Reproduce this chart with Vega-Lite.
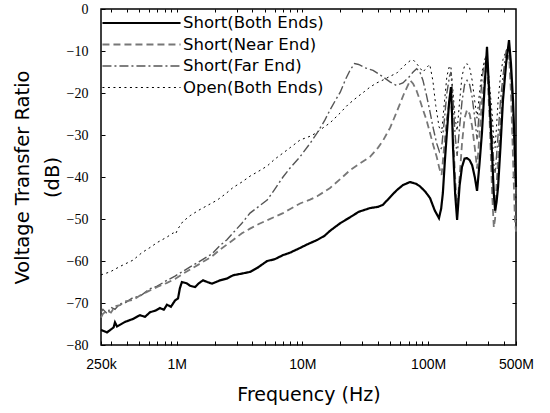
{
 "$schema": "https://vega.github.io/schema/vega-lite/v6.json",
 "width": 415, "height": 336,
 "autosize": "none",
 "padding": {"left": 101, "top": 9, "right": 34, "bottom": 68},
 "background": "white",
 "config": {"view": {"stroke": "black", "strokeWidth": 1.5}, "axis": {"grid": false}},
 "datasets": {
  "both": [
   {"s":"Short(Both Ends)","f":250000,"v":-76.4},{"s":"Short(Both Ends)","f":259000,"v":-76.6},{"s":"Short(Both Ends)","f":279000,"v":-77.0},{"s":"Short(Both Ends)","f":300000,"v":-76.3},{"s":"Short(Both Ends)","f":315000,"v":-75.8},{"s":"Short(Both Ends)","f":323000,"v":-74.6},{"s":"Short(Both Ends)","f":335000,"v":-75.6},{"s":"Short(Both Ends)","f":388000,"v":-74.5},{"s":"Short(Both Ends)","f":449000,"v":-73.8},{"s":"Short(Both Ends)","f":510000,"v":-72.9},{"s":"Short(Both Ends)","f":560000,"v":-73.3},{"s":"Short(Both Ends)","f":613000,"v":-72.2},{"s":"Short(Both Ends)","f":680000,"v":-71.8},{"s":"Short(Both Ends)","f":736000,"v":-71.2},{"s":"Short(Both Ends)","f":790000,"v":-71.6},{"s":"Short(Both Ends)","f":837000,"v":-70.4},{"s":"Short(Both Ends)","f":900000,"v":-70.9},{"s":"Short(Both Ends)","f":970000,"v":-69.4},{"s":"Short(Both Ends)","f":1025000,"v":-68.9},{"s":"Short(Both Ends)","f":1060000,"v":-66.5},{"s":"Short(Both Ends)","f":1100000,"v":-65.0},{"s":"Short(Both Ends)","f":1200000,"v":-65.3},{"s":"Short(Both Ends)","f":1280000,"v":-65.9},{"s":"Short(Both Ends)","f":1400000,"v":-66.2},{"s":"Short(Both Ends)","f":1500000,"v":-65.3},{"s":"Short(Both Ends)","f":1620000,"v":-64.6},{"s":"Short(Both Ends)","f":1750000,"v":-65.0},{"s":"Short(Both Ends)","f":1910000,"v":-65.4},{"s":"Short(Both Ends)","f":2210000,"v":-64.6},{"s":"Short(Both Ends)","f":2500000,"v":-64.2},{"s":"Short(Both Ends)","f":2810000,"v":-63.4},{"s":"Short(Both Ends)","f":3300000,"v":-63.0},{"s":"Short(Both Ends)","f":3830000,"v":-62.6},{"s":"Short(Both Ends)","f":4400000,"v":-61.6},{"s":"Short(Both Ends)","f":5240000,"v":-60.0},{"s":"Short(Both Ends)","f":6000000,"v":-59.6},{"s":"Short(Both Ends)","f":7010000,"v":-58.6},{"s":"Short(Both Ends)","f":8000000,"v":-58.0},{"s":"Short(Both Ends)","f":9570000,"v":-56.9},{"s":"Short(Both Ends)","f":11000000,"v":-56.0},{"s":"Short(Both Ends)","f":13100000,"v":-55.0},{"s":"Short(Both Ends)","f":15000000,"v":-54.0},{"s":"Short(Both Ends)","f":16600000,"v":-52.8},{"s":"Short(Both Ends)","f":20000000,"v":-51.0},{"s":"Short(Both Ends)","f":23900000,"v":-49.6},{"s":"Short(Both Ends)","f":28000000,"v":-48.3},{"s":"Short(Both Ends)","f":34500000,"v":-47.4},{"s":"Short(Both Ends)","f":40000000,"v":-47.1},{"s":"Short(Both Ends)","f":43800000,"v":-46.6},{"s":"Short(Both Ends)","f":49800000,"v":-44.8},{"s":"Short(Both Ends)","f":56000000,"v":-43.2},{"s":"Short(Both Ends)","f":63200000,"v":-41.9},{"s":"Short(Both Ends)","f":71800000,"v":-41.2},{"s":"Short(Both Ends)","f":80000000,"v":-41.6},{"s":"Short(Both Ends)","f":86000000,"v":-42.2},{"s":"Short(Both Ends)","f":95000000,"v":-43.5},{"s":"Short(Both Ends)","f":103500000,"v":-45.0},{"s":"Short(Both Ends)","f":113000000,"v":-48.0},{"s":"Short(Both Ends)","f":122000000,"v":-49.8},{"s":"Short(Both Ends)","f":127000000,"v":-47.5},{"s":"Short(Both Ends)","f":131000000,"v":-43.8},{"s":"Short(Both Ends)","f":136000000,"v":-36},{"s":"Short(Both Ends)","f":141000000,"v":-29.5},{"s":"Short(Both Ends)","f":147000000,"v":-22},{"s":"Short(Both Ends)","f":152000000,"v":-18.6},{"s":"Short(Both Ends)","f":155000000,"v":-25},{"s":"Short(Both Ends)","f":158000000,"v":-33.6},{"s":"Short(Both Ends)","f":164000000,"v":-44},{"s":"Short(Both Ends)","f":170000000,"v":-50.2},{"s":"Short(Both Ends)","f":178000000,"v":-42},{"s":"Short(Both Ends)","f":186000000,"v":-37.6},{"s":"Short(Both Ends)","f":195000000,"v":-35.6},{"s":"Short(Both Ends)","f":204000000,"v":-35.5},{"s":"Short(Both Ends)","f":214000000,"v":-36},{"s":"Short(Both Ends)","f":224000000,"v":-37.2},{"s":"Short(Both Ends)","f":235000000,"v":-40},{"s":"Short(Both Ends)","f":245000000,"v":-43.3},{"s":"Short(Both Ends)","f":256000000,"v":-37},{"s":"Short(Both Ends)","f":268000000,"v":-29.5},{"s":"Short(Both Ends)","f":282000000,"v":-18},{"s":"Short(Both Ends)","f":294000000,"v":-9.0},{"s":"Short(Both Ends)","f":308000000,"v":-22},{"s":"Short(Both Ends)","f":323000000,"v":-35},{"s":"Short(Both Ends)","f":333000000,"v":-44},{"s":"Short(Both Ends)","f":341000000,"v":-48},{"s":"Short(Both Ends)","f":350000000,"v":-46},{"s":"Short(Both Ends)","f":360000000,"v":-42.4},{"s":"Short(Both Ends)","f":376000000,"v":-33},{"s":"Short(Both Ends)","f":394000000,"v":-21.7},{"s":"Short(Both Ends)","f":417000000,"v":-13},{"s":"Short(Both Ends)","f":440000000,"v":-7.4},{"s":"Short(Both Ends)","f":456000000,"v":-13},{"s":"Short(Both Ends)","f":474000000,"v":-22},{"s":"Short(Both Ends)","f":490000000,"v":-34},{"s":"Short(Both Ends)","f":500000000,"v":-42.4}
  ],
  "near": [
   {"s":"Short(Near End)","f":250000,"v":-73.5},{"s":"Short(Near End)","f":259000,"v":-72.6},{"s":"Short(Near End)","f":279000,"v":-71.8},{"s":"Short(Near End)","f":300000,"v":-72.3},{"s":"Short(Near End)","f":323000,"v":-70.8},{"s":"Short(Near End)","f":354000,"v":-70.5},{"s":"Short(Near End)","f":388000,"v":-69.6},{"s":"Short(Near End)","f":449000,"v":-69.3},{"s":"Short(Near End)","f":510000,"v":-68.2},{"s":"Short(Near End)","f":613000,"v":-67.0},{"s":"Short(Near End)","f":700000,"v":-66.2},{"s":"Short(Near End)","f":837000,"v":-65.2},{"s":"Short(Near End)","f":970000,"v":-64.3},{"s":"Short(Near End)","f":1100000,"v":-63.2},{"s":"Short(Near End)","f":1280000,"v":-62.0},{"s":"Short(Near End)","f":1500000,"v":-60.8},{"s":"Short(Near End)","f":1700000,"v":-59.8},{"s":"Short(Near End)","f":1910000,"v":-58.9},{"s":"Short(Near End)","f":2210000,"v":-57.3},{"s":"Short(Near End)","f":2810000,"v":-55.0},{"s":"Short(Near End)","f":3300000,"v":-53.4},{"s":"Short(Near End)","f":3830000,"v":-52.3},{"s":"Short(Near End)","f":4500000,"v":-51.2},{"s":"Short(Near End)","f":5240000,"v":-50.3},{"s":"Short(Near End)","f":6000000,"v":-49.5},{"s":"Short(Near End)","f":7010000,"v":-48.6},{"s":"Short(Near End)","f":8000000,"v":-47.6},{"s":"Short(Near End)","f":9570000,"v":-46.3},{"s":"Short(Near End)","f":11500000,"v":-45.4},{"s":"Short(Near End)","f":13100000,"v":-44.6},{"s":"Short(Near End)","f":16600000,"v":-42.6},{"s":"Short(Near End)","f":20000000,"v":-40.5},{"s":"Short(Near End)","f":23900000,"v":-38.4},{"s":"Short(Near End)","f":28000000,"v":-37.0},{"s":"Short(Near End)","f":34500000,"v":-35.2},{"s":"Short(Near End)","f":40000000,"v":-33.0},{"s":"Short(Near End)","f":44000000,"v":-31.2},{"s":"Short(Near End)","f":50000000,"v":-28.2},{"s":"Short(Near End)","f":55000000,"v":-25.2},{"s":"Short(Near End)","f":60000000,"v":-22.4},{"s":"Short(Near End)","f":64000000,"v":-20.3},{"s":"Short(Near End)","f":68000000,"v":-18.6},{"s":"Short(Near End)","f":72000000,"v":-17.0},{"s":"Short(Near End)","f":76000000,"v":-17.8},{"s":"Short(Near End)","f":81000000,"v":-19.5},{"s":"Short(Near End)","f":86000000,"v":-21.7},{"s":"Short(Near End)","f":91000000,"v":-24.0},{"s":"Short(Near End)","f":97000000,"v":-26.4},{"s":"Short(Near End)","f":103500000,"v":-29.5},{"s":"Short(Near End)","f":110000000,"v":-32.5},{"s":"Short(Near End)","f":117000000,"v":-35.2},{"s":"Short(Near End)","f":123000000,"v":-38},{"s":"Short(Near End)","f":128000000,"v":-39.5},{"s":"Short(Near End)","f":134000000,"v":-33},{"s":"Short(Near End)","f":141000000,"v":-26},{"s":"Short(Near End)","f":148000000,"v":-22},{"s":"Short(Near End)","f":152000000,"v":-21},{"s":"Short(Near End)","f":158000000,"v":-30},{"s":"Short(Near End)","f":164000000,"v":-40},{"s":"Short(Near End)","f":170000000,"v":-48},{"s":"Short(Near End)","f":178000000,"v":-40},{"s":"Short(Near End)","f":186000000,"v":-32},{"s":"Short(Near End)","f":195000000,"v":-26},{"s":"Short(Near End)","f":204000000,"v":-24},{"s":"Short(Near End)","f":214000000,"v":-25},{"s":"Short(Near End)","f":224000000,"v":-28},{"s":"Short(Near End)","f":235000000,"v":-33},{"s":"Short(Near End)","f":245000000,"v":-38},{"s":"Short(Near End)","f":256000000,"v":-30},{"s":"Short(Near End)","f":268000000,"v":-22},{"s":"Short(Near End)","f":282000000,"v":-16},{"s":"Short(Near End)","f":294000000,"v":-13},{"s":"Short(Near End)","f":308000000,"v":-26},{"s":"Short(Near End)","f":323000000,"v":-44},{"s":"Short(Near End)","f":333000000,"v":-52},{"s":"Short(Near End)","f":341000000,"v":-50},{"s":"Short(Near End)","f":350000000,"v":-42},{"s":"Short(Near End)","f":360000000,"v":-36},{"s":"Short(Near End)","f":376000000,"v":-27},{"s":"Short(Near End)","f":394000000,"v":-19},{"s":"Short(Near End)","f":417000000,"v":-13},{"s":"Short(Near End)","f":440000000,"v":-11},{"s":"Short(Near End)","f":456000000,"v":-20},{"s":"Short(Near End)","f":474000000,"v":-36},{"s":"Short(Near End)","f":490000000,"v":-50},{"s":"Short(Near End)","f":500000000,"v":-53}
  ],
  "far": [
   {"s":"Short(Far End)","f":250000,"v":-72.2},{"s":"Short(Far End)","f":259000,"v":-71.5},{"s":"Short(Far End)","f":279000,"v":-72.5},{"s":"Short(Far End)","f":300000,"v":-71.0},{"s":"Short(Far End)","f":323000,"v":-71.5},{"s":"Short(Far End)","f":354000,"v":-70.2},{"s":"Short(Far End)","f":388000,"v":-70.0},{"s":"Short(Far End)","f":449000,"v":-68.7},{"s":"Short(Far End)","f":510000,"v":-68.4},{"s":"Short(Far End)","f":613000,"v":-66.6},{"s":"Short(Far End)","f":700000,"v":-66.0},{"s":"Short(Far End)","f":837000,"v":-64.6},{"s":"Short(Far End)","f":970000,"v":-63.6},{"s":"Short(Far End)","f":1100000,"v":-62.6},{"s":"Short(Far End)","f":1280000,"v":-61.4},{"s":"Short(Far End)","f":1500000,"v":-60.2},{"s":"Short(Far End)","f":1700000,"v":-59.2},{"s":"Short(Far End)","f":1910000,"v":-58.3},{"s":"Short(Far End)","f":2210000,"v":-56.3},{"s":"Short(Far End)","f":2500000,"v":-55.0},{"s":"Short(Far End)","f":2810000,"v":-53.3},{"s":"Short(Far End)","f":3300000,"v":-51.0},{"s":"Short(Far End)","f":3830000,"v":-48.6},{"s":"Short(Far End)","f":4500000,"v":-47.0},{"s":"Short(Far End)","f":5240000,"v":-45.5},{"s":"Short(Far End)","f":6000000,"v":-43.0},{"s":"Short(Far End)","f":7010000,"v":-40.0},{"s":"Short(Far End)","f":8000000,"v":-37.8},{"s":"Short(Far End)","f":9570000,"v":-35.2},{"s":"Short(Far End)","f":11500000,"v":-32.0},{"s":"Short(Far End)","f":13100000,"v":-29.5},{"s":"Short(Far End)","f":15000000,"v":-26.6},{"s":"Short(Far End)","f":16600000,"v":-24.0},{"s":"Short(Far End)","f":18500000,"v":-21.5},{"s":"Short(Far End)","f":20000000,"v":-19.8},{"s":"Short(Far End)","f":22000000,"v":-16.8},{"s":"Short(Far End)","f":24000000,"v":-14.5},{"s":"Short(Far End)","f":26000000,"v":-13.0},{"s":"Short(Far End)","f":28000000,"v":-13.2},{"s":"Short(Far End)","f":31500000,"v":-14.0},{"s":"Short(Far End)","f":36500000,"v":-14.6},{"s":"Short(Far End)","f":44000000,"v":-16.2},{"s":"Short(Far End)","f":50000000,"v":-17.4},{"s":"Short(Far End)","f":56000000,"v":-18.2},{"s":"Short(Far End)","f":63000000,"v":-17.6},{"s":"Short(Far End)","f":70000000,"v":-16.3},{"s":"Short(Far End)","f":76000000,"v":-15.0},{"s":"Short(Far End)","f":81000000,"v":-14.2},{"s":"Short(Far End)","f":86000000,"v":-15.0},{"s":"Short(Far End)","f":91000000,"v":-17.0},{"s":"Short(Far End)","f":97000000,"v":-20.5},{"s":"Short(Far End)","f":103500000,"v":-24.5},{"s":"Short(Far End)","f":110000000,"v":-28.5},{"s":"Short(Far End)","f":117000000,"v":-32.0},{"s":"Short(Far End)","f":123000000,"v":-34},{"s":"Short(Far End)","f":128000000,"v":-33},{"s":"Short(Far End)","f":134000000,"v":-27},{"s":"Short(Far End)","f":141000000,"v":-20},{"s":"Short(Far End)","f":148000000,"v":-16},{"s":"Short(Far End)","f":152000000,"v":-15},{"s":"Short(Far End)","f":158000000,"v":-22},{"s":"Short(Far End)","f":164000000,"v":-30},{"s":"Short(Far End)","f":170000000,"v":-35},{"s":"Short(Far End)","f":178000000,"v":-28},{"s":"Short(Far End)","f":186000000,"v":-22},{"s":"Short(Far End)","f":195000000,"v":-18},{"s":"Short(Far End)","f":204000000,"v":-17},{"s":"Short(Far End)","f":214000000,"v":-18},{"s":"Short(Far End)","f":224000000,"v":-21},{"s":"Short(Far End)","f":235000000,"v":-26},{"s":"Short(Far End)","f":245000000,"v":-31},{"s":"Short(Far End)","f":256000000,"v":-24},{"s":"Short(Far End)","f":268000000,"v":-17},{"s":"Short(Far End)","f":282000000,"v":-12},{"s":"Short(Far End)","f":294000000,"v":-11},{"s":"Short(Far End)","f":308000000,"v":-20},{"s":"Short(Far End)","f":323000000,"v":-30},{"s":"Short(Far End)","f":333000000,"v":-37},{"s":"Short(Far End)","f":341000000,"v":-39},{"s":"Short(Far End)","f":350000000,"v":-35},{"s":"Short(Far End)","f":360000000,"v":-30},{"s":"Short(Far End)","f":376000000,"v":-22},{"s":"Short(Far End)","f":394000000,"v":-16},{"s":"Short(Far End)","f":417000000,"v":-10},{"s":"Short(Far End)","f":440000000,"v":-9},{"s":"Short(Far End)","f":456000000,"v":-15},{"s":"Short(Far End)","f":474000000,"v":-26},{"s":"Short(Far End)","f":490000000,"v":-38},{"s":"Short(Far End)","f":500000000,"v":-44}
  ],
  "open": [
   {"s":"Open(Both Ends)","f":250000,"v":-63.3},{"s":"Open(Both Ends)","f":295000,"v":-62.6},{"s":"Open(Both Ends)","f":354000,"v":-61.3},{"s":"Open(Both Ends)","f":449000,"v":-59.8},{"s":"Open(Both Ends)","f":530000,"v":-58.0},{"s":"Open(Both Ends)","f":613000,"v":-56.8},{"s":"Open(Both Ends)","f":700000,"v":-55.6},{"s":"Open(Both Ends)","f":837000,"v":-54.3},{"s":"Open(Both Ends)","f":940000,"v":-53.3},{"s":"Open(Both Ends)","f":980000,"v":-53.6},{"s":"Open(Both Ends)","f":1020000,"v":-52.4},{"s":"Open(Both Ends)","f":1120000,"v":-50.6},{"s":"Open(Both Ends)","f":1280000,"v":-49.2},{"s":"Open(Both Ends)","f":1500000,"v":-47.9},{"s":"Open(Both Ends)","f":1750000,"v":-46.8},{"s":"Open(Both Ends)","f":2100000,"v":-45.5},{"s":"Open(Both Ends)","f":2450000,"v":-44.0},{"s":"Open(Both Ends)","f":2810000,"v":-42.5},{"s":"Open(Both Ends)","f":3300000,"v":-41.2},{"s":"Open(Both Ends)","f":3830000,"v":-39.8},{"s":"Open(Both Ends)","f":4500000,"v":-38.6},{"s":"Open(Both Ends)","f":5240000,"v":-37.4},{"s":"Open(Both Ends)","f":6000000,"v":-35.8},{"s":"Open(Both Ends)","f":7010000,"v":-34.3},{"s":"Open(Both Ends)","f":8000000,"v":-33.0},{"s":"Open(Both Ends)","f":9570000,"v":-31.2},{"s":"Open(Both Ends)","f":11500000,"v":-30.3},{"s":"Open(Both Ends)","f":13100000,"v":-29.4},{"s":"Open(Both Ends)","f":13800000,"v":-28.8},{"s":"Open(Both Ends)","f":16600000,"v":-27.1},{"s":"Open(Both Ends)","f":19900000,"v":-24.8},{"s":"Open(Both Ends)","f":23000000,"v":-22.8},{"s":"Open(Both Ends)","f":27200000,"v":-21.0},{"s":"Open(Both Ends)","f":31000000,"v":-19.7},{"s":"Open(Both Ends)","f":34500000,"v":-18.6},{"s":"Open(Both Ends)","f":39000000,"v":-17.6},{"s":"Open(Both Ends)","f":43800000,"v":-16.9},{"s":"Open(Both Ends)","f":50000000,"v":-16.0},{"s":"Open(Both Ends)","f":56600000,"v":-15.2},{"s":"Open(Both Ends)","f":62000000,"v":-14.0},{"s":"Open(Both Ends)","f":68000000,"v":-12.9},{"s":"Open(Both Ends)","f":72000000,"v":-12.3},{"s":"Open(Both Ends)","f":76000000,"v":-12.1},{"s":"Open(Both Ends)","f":81000000,"v":-13.0},{"s":"Open(Both Ends)","f":86000000,"v":-14.0},{"s":"Open(Both Ends)","f":91000000,"v":-15.0},{"s":"Open(Both Ends)","f":97000000,"v":-14.0},{"s":"Open(Both Ends)","f":103000000,"v":-13.2},{"s":"Open(Both Ends)","f":109000000,"v":-17},{"s":"Open(Both Ends)","f":115000000,"v":-23},{"s":"Open(Both Ends)","f":122000000,"v":-28},{"s":"Open(Both Ends)","f":128000000,"v":-29.5},{"s":"Open(Both Ends)","f":134000000,"v":-23},{"s":"Open(Both Ends)","f":141000000,"v":-16},{"s":"Open(Both Ends)","f":148000000,"v":-13.5},{"s":"Open(Both Ends)","f":152000000,"v":-14},{"s":"Open(Both Ends)","f":158000000,"v":-20},{"s":"Open(Both Ends)","f":164000000,"v":-26},{"s":"Open(Both Ends)","f":170000000,"v":-29},{"s":"Open(Both Ends)","f":178000000,"v":-22},{"s":"Open(Both Ends)","f":186000000,"v":-16},{"s":"Open(Both Ends)","f":195000000,"v":-13.5},{"s":"Open(Both Ends)","f":204000000,"v":-13},{"s":"Open(Both Ends)","f":214000000,"v":-14},{"s":"Open(Both Ends)","f":224000000,"v":-17},{"s":"Open(Both Ends)","f":235000000,"v":-22},{"s":"Open(Both Ends)","f":245000000,"v":-26},{"s":"Open(Both Ends)","f":256000000,"v":-20},{"s":"Open(Both Ends)","f":268000000,"v":-15},{"s":"Open(Both Ends)","f":282000000,"v":-12},{"s":"Open(Both Ends)","f":294000000,"v":-11.5},{"s":"Open(Both Ends)","f":308000000,"v":-18},{"s":"Open(Both Ends)","f":323000000,"v":-25},{"s":"Open(Both Ends)","f":333000000,"v":-31},{"s":"Open(Both Ends)","f":341000000,"v":-33},{"s":"Open(Both Ends)","f":350000000,"v":-28},{"s":"Open(Both Ends)","f":360000000,"v":-22},{"s":"Open(Both Ends)","f":376000000,"v":-16},{"s":"Open(Both Ends)","f":394000000,"v":-12},{"s":"Open(Both Ends)","f":417000000,"v":-10},{"s":"Open(Both Ends)","f":440000000,"v":-9},{"s":"Open(Both Ends)","f":456000000,"v":-14},{"s":"Open(Both Ends)","f":474000000,"v":-24},{"s":"Open(Both Ends)","f":490000000,"v":-38},{"s":"Open(Both Ends)","f":500000000,"v":-46}
  ]
 },
 "layer": [
  {
   "data": {"name": "open"},
   "mark": {"type": "line", "strokeCap": "butt"},
   "encoding": {
    "x": {"field": "f", "type": "quantitative", "scale": {"type": "log", "domain": [250000, 500000000], "nice": false},
     "axis": {"orient": "bottom", "values": [250000,300000,400000,500000,600000,700000,800000,900000,1000000,2000000,3000000,4000000,5000000,6000000,7000000,8000000,9000000,10000000,20000000,30000000,40000000,50000000,60000000,70000000,80000000,90000000,100000000,200000000,300000000,400000000,500000000],
      "labelExpr": "datum.value == 250000 ? '250k' : datum.value == 1000000 ? '1M' : datum.value == 10000000 ? '10M' : datum.value == 100000000 ? '100M' : datum.value == 500000000 ? '500M' : ''",
      "labelOverlap": false, "labelFlush": false, "labelFont": "Liberation Sans", "labelFontSize": 14, "labelColor": "black", "labelPadding": 16,
      "domain": false, "tickSize": -4, "tickColor": "black", "tickWidth": 1,
      "title": "Frequency (Hz)", "titleFont": "DejaVu Sans", "titleFontSize": 19, "titleFontWeight": "normal", "titleColor": "black", "titlePadding": 14}},
    "y": {"field": "v", "type": "quantitative", "scale": {"domain": [-80, 0], "nice": false, "zero": false},
     "axis": {"orient": "left", "values": [-80,-70,-60,-50,-40,-30,-20,-10,0],
      "labelFont": "Liberation Serif", "labelFontSize": 14, "labelColor": "black", "labelPadding": 17,
      "domain": false, "tickSize": -4, "tickColor": "black", "tickWidth": 1,
      "title": ["Voltage Transfer Ratio", "(dB)"], "titleFont": "DejaVu Sans", "titleFontSize": 19.5, "titleFontWeight": "normal", "titleColor": "black", "titleLineHeight": 30, "titlePadding": 4}},
    "color": {"field": "s", "type": "nominal", "scale": {"domain": ["Short(Both Ends)","Short(Near End)","Short(Far End)","Open(Both Ends)"], "range": ["#000000","#777777","#555555","#000000"]},
     "legend": {"title": null, "orient": "none", "legendX": 0, "legendY": 6, "symbolType": "stroke", "symbolSize": 6100, "clipHeight": 16, "labelFont": "DejaVu Sans", "labelFontSize": 16.5, "labelColor": "black", "rowPadding": 4.5, "labelOffset": 1, "padding": 0}},
    "strokeDash": {"field": "s", "type": "nominal", "scale": {"domain": ["Short(Both Ends)","Short(Near End)","Short(Far End)","Open(Both Ends)"], "range": [[1,0],[7,4],[9,3,2,3],[2,3.5]]},
     "legend": {"title": null, "orient": "none", "legendX": 0, "legendY": 6, "symbolType": "stroke", "symbolSize": 6100, "clipHeight": 16, "labelFont": "DejaVu Sans", "labelFontSize": 16.5, "labelColor": "black", "rowPadding": 4.5, "labelOffset": 1, "padding": 0}},
    "strokeWidth": {"field": "s", "type": "nominal", "scale": {"domain": ["Short(Both Ends)","Short(Near End)","Short(Far End)","Open(Both Ends)"], "range": [2.2,1,1,2]},
     "legend": {"title": null, "orient": "none", "legendX": 0, "legendY": 6, "symbolType": "stroke", "symbolSize": 6100, "clipHeight": 16, "labelFont": "DejaVu Sans", "labelFontSize": 16.5, "labelColor": "black", "rowPadding": 4.5, "labelOffset": 1, "padding": 0}}
   }
  },
  {
   "data": {"name": "far"},
   "mark": {"type": "line", "strokeCap": "butt"},
   "encoding": {
    "x": {"field": "f", "type": "quantitative", "scale": {"type": "log", "domain": [250000, 500000000], "nice": false},
     "axis": {"orient": "top", "values": [300000,400000,500000,600000,700000,800000,900000,1000000,2000000,3000000,4000000,5000000,6000000,7000000,8000000,9000000,10000000,20000000,30000000,40000000,50000000,60000000,70000000,80000000,90000000,100000000,200000000,300000000,400000000],
      "labels": false, "domain": false, "tickSize": -3, "tickColor": "black", "tickWidth": 1, "title": null}},
    "y": {"field": "v", "type": "quantitative", "scale": {"domain": [-80, 0], "nice": false, "zero": false},
     "axis": {"orient": "right", "values": [-70,-60,-50,-40,-30,-20,-10],
      "labels": false, "domain": false, "tickSize": -4, "tickColor": "black", "tickWidth": 1, "title": null}},
    "color": {"field": "s", "type": "nominal"},
    "strokeDash": {"field": "s", "type": "nominal"},
    "strokeWidth": {"field": "s", "type": "nominal"}
   }
  },
  {
   "data": {"name": "near"},
   "mark": {"type": "line", "strokeCap": "butt"},
   "encoding": {
    "x": {"field": "f", "type": "quantitative", "axis": null},
    "y": {"field": "v", "type": "quantitative", "axis": null},
    "color": {"field": "s", "type": "nominal"},
    "strokeDash": {"field": "s", "type": "nominal"},
    "strokeWidth": {"field": "s", "type": "nominal"}
   }
  },
  {
   "data": {"name": "both"},
   "mark": {"type": "line", "strokeCap": "butt"},
   "encoding": {
    "x": {"field": "f", "type": "quantitative", "axis": null},
    "y": {"field": "v", "type": "quantitative", "axis": null},
    "color": {"field": "s", "type": "nominal"},
    "strokeDash": {"field": "s", "type": "nominal"},
    "strokeWidth": {"field": "s", "type": "nominal"}
   }
  }
 ],
 "resolve": {"axis": {"x": "independent", "y": "independent"}}
}
